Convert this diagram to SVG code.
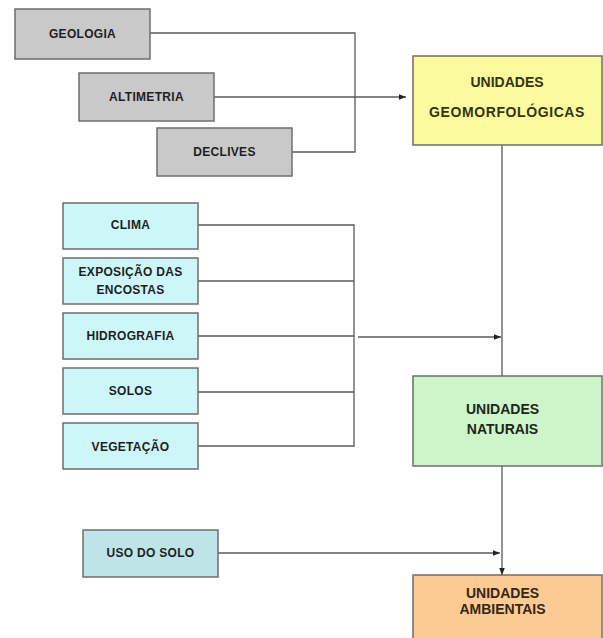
<svg xmlns="http://www.w3.org/2000/svg" width="603" height="638" viewBox="0 0 603 638">
<style>
.box{stroke:#6e6e6e;stroke-width:1.5}
.g{fill:#c9c9c9}
.c{fill:#cdf6f8}
.u{fill:#bfe4e7}
.y{fill:#fbfa9e}
.n{fill:#cdf5c9}
.o{fill:#fccb93}
.t{font-family:"Liberation Sans",Arial,sans-serif;font-weight:bold;font-size:12px;fill:#1e1e1e;text-anchor:middle;letter-spacing:0.3px}
.T{font-family:"Liberation Sans",Arial,sans-serif;font-weight:bold;font-size:14px;text-anchor:middle}
.ln{fill:none;stroke:#5a5a5a;stroke-width:1.3}
</style>
<defs>
<marker id="ah" viewBox="0 0 10 10" refX="10" refY="5" markerWidth="7" markerHeight="7" markerUnits="userSpaceOnUse" orient="auto">
<path d="M0,1 L10,5 L0,9 Z" fill="#222"/>
</marker>
</defs>
<rect width="603" height="638" fill="#ffffff"/>
<g id="connectors">
<polyline class="ln" points="150,33 355,33 355,152 292,152"/>
<line class="ln" x1="214" y1="97" x2="406" y2="97" marker-end="url(#ah)"/>
<polyline class="ln" points="198,225 354,225 354,446 198,446"/>
<line class="ln" x1="198" y1="281" x2="354" y2="281"/>
<line class="ln" x1="198" y1="336" x2="354" y2="336"/>
<line class="ln" x1="198" y1="392" x2="354" y2="392"/>
<line class="ln" x1="358" y1="337" x2="501" y2="337" marker-end="url(#ah)"/>
<line class="ln" x1="502" y1="141" x2="502" y2="376"/>
<line class="ln" x1="502" y1="466" x2="502" y2="575" marker-end="url(#ah)"/>
<line class="ln" x1="218" y1="553" x2="500" y2="553" marker-end="url(#ah)"/>
</g>
<g id="geologia"><rect class="box g" x="15" y="9" width="135" height="50"/><text class="t" x="82.5" y="38">GEOLOGIA</text></g>
<g id="altimetria"><rect class="box g" x="79" y="73" width="135" height="48"/><text class="t" x="146.5" y="101">ALTIMETRIA</text></g>
<g id="declives"><rect class="box g" x="157" y="128" width="135" height="48"/><text class="t" x="224.5" y="156">DECLIVES</text></g>
<g id="unidades-geomorfologicas"><rect class="box y" x="413" y="56" width="189" height="89"/><text class="T" x="507" y="87" fill="#34340f">UNIDADES</text><text class="T" x="507" y="117" fill="#34340f" letter-spacing="0.6">GEOMORFOLÓGICAS</text></g>
<g id="clima"><rect class="box c" x="63" y="203" width="135" height="46"/><text class="t" x="130.5" y="229">CLIMA</text></g>
<g id="exposicao"><rect class="box c" x="63" y="258" width="135" height="46"/><text class="t" x="130.5" y="276">EXPOSIÇÃO DAS</text><text class="t" x="130.5" y="294">ENCOSTAS</text></g>
<g id="hidrografia"><rect class="box c" x="63" y="313" width="135" height="46"/><text class="t" x="130.5" y="340">HIDROGRAFIA</text></g>
<g id="solos"><rect class="box c" x="63" y="368" width="135" height="46"/><text class="t" x="130.5" y="395">SOLOS</text></g>
<g id="vegetacao"><rect class="box c" x="63" y="423" width="135" height="46"/><text class="t" x="130.5" y="451">VEGETAÇÃO</text></g>
<g id="unidades-naturais"><rect class="box n" x="413" y="376" width="189" height="90"/><text class="T" x="502.5" y="414" fill="#1c261c">UNIDADES</text><text class="T" x="502.5" y="434" fill="#1c261c">NATURAIS</text></g>
<g id="uso-do-solo"><rect class="box u" x="83" y="530" width="135" height="47"/><text class="t" x="150.5" y="557" fill="#1a2c31">USO DO SOLO</text></g>
<g id="unidades-ambientais"><rect class="box o" x="413" y="575" width="189" height="70"/><text class="T" x="502.5" y="598" fill="#36260f">UNIDADES</text><text class="T" x="502.5" y="614" fill="#36260f">AMBIENTAIS</text></g>
</svg>
